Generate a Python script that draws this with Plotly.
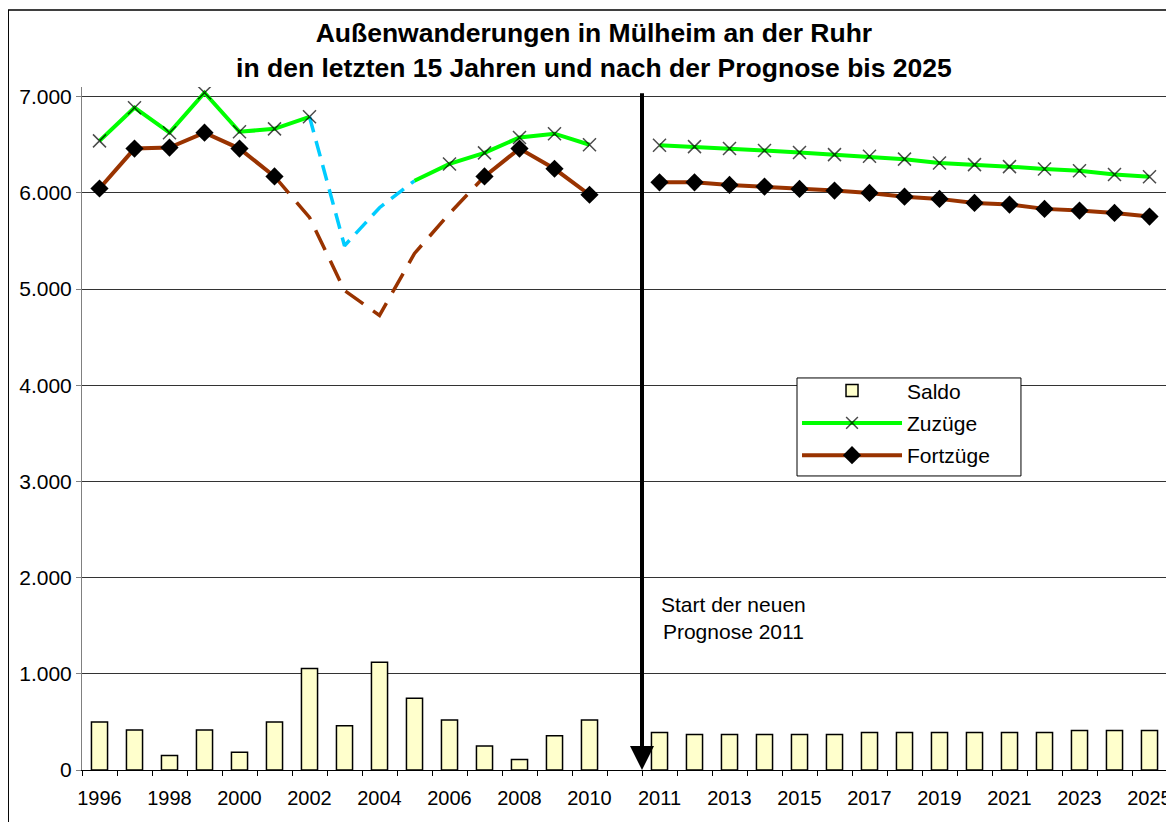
import plotly.graph_objects as go

# ---------------- data ----------------
years_hist = [str(y) for y in range(1996, 2011)]
zuzuege_hist = [6540, 6885, 6625, 7040, 6635, 6665, 6790, 5450, 5845, 6125, 6300, 6415, 6575, 6615, 6500]
fortzuege_hist = [6045, 6460, 6470, 6625, 6460, 6170, 5745, 4985, 4725, 5370, 5785, 6170, 6460, 6250, 5980]
saldo_hist = [500, 415, 150, 415, 185, 500, 1055, 460, 1120, 745, 520, 250, 110, 355, 520]

years_prog = [str(y) for y in range(2011, 2026)]
zuzuege_prog = [6495, 6480, 6460, 6440, 6420, 6397, 6380, 6350, 6310, 6293, 6272, 6248, 6230, 6190, 6168]
fortzuege_prog = [6109, 6109, 6082, 6065, 6040, 6023, 5999, 5960, 5937, 5895, 5878, 5833, 5815, 5791, 5753]
saldo_prog = [390, 370, 370, 370, 370, 370, 390, 390, 390, 390, 390, 390, 410, 410, 410]

# years whose values are only estimated (drawn dashed, no markers)
zuzuege_est_years = ["2003", "2004", "2005"]
fortzuege_est_years = ["2002", "2003", "2004", "2005", "2006"]

gap_label = " "
categories = years_hist + [gap_label] + years_prog
tick_text = [c if i % 2 == 0 else "" for i, c in enumerate(categories)]

# ---------------- build series ----------------
zuz_all = dict(zip(years_hist, zuzuege_hist)); zuz_all.update(zip(years_prog, zuzuege_prog))
fort_all = dict(zip(years_hist, fortzuege_hist)); fort_all.update(zip(years_prog, fortzuege_prog))
saldo_all = dict(zip(years_hist, saldo_hist)); saldo_all.update(zip(years_prog, saldo_prog))

def solid(values, est, keep_last_est=False):
    out = []
    for c in categories:
        if c not in values:
            out.append(None)
        elif c in est and not (keep_last_est and c == est[-1]):
            out.append(None)
        else:
            out.append(values[c])
    return out

def dashed(values, est):
    i0 = years_hist.index(est[0]) - 1
    i1 = years_hist.index(est[-1]) + 1
    keep = set(years_hist[i0:i1 + 1])
    return [values[c] if c in keep else None for c in categories]

zuz_solid = solid(zuz_all, zuzuege_est_years, keep_last_est=True)
zuz_sizes = [0 if c in zuzuege_est_years else 13 for c in categories]
zuz_dash = dashed(zuz_all, zuzuege_est_years[:-1])
fort_solid = solid(fort_all, fortzuege_est_years)
fort_dash = dashed(fort_all, fortzuege_est_years)
saldo_vals = [saldo_all.get(c) for c in categories]

FONT = "Arial, Liberation Sans, sans-serif"
FS = 20

fig = go.Figure()
fig.add_trace(go.Bar(
    x=categories, y=saldo_vals, name="Saldo", legendgroup="a",
    marker=dict(color="#FFFFCC", line=dict(color="black", width=1.5)),
))
fig.add_trace(go.Scatter(
    x=categories, y=zuz_dash, mode="lines", showlegend=False,
    line=dict(color="#00CCFF", width=3.5, dash="16px,9px"), connectgaps=False,
))
fig.add_trace(go.Scatter(
    x=categories, y=fort_dash, mode="lines", showlegend=False,
    line=dict(color="#993300", width=3.5, dash="22px,12px"), connectgaps=False,
))
fig.add_trace(go.Scatter(
    x=categories, y=zuz_solid, mode="lines+markers", name="Zuzüge", legendgroup="b",
    line=dict(color="#00FF00", width=4),
    marker=dict(symbol="x-thin", size=zuz_sizes, color="black",
                line=dict(color="black", width=1.5)),
    connectgaps=False,
))
fig.add_trace(go.Scatter(
    x=categories, y=fort_solid, mode="lines+markers", name="Fortzüge", legendgroup="c",
    line=dict(color="#993300", width=4),
    marker=dict(symbol="diamond", size=14, color="black"),
    connectgaps=False,
))

# arrow marking the start of the forecast
fig.add_annotation(
    x=15.5, y=0, ax=15.5, ay=7050, xref="x", yref="y", axref="x", ayref="y",
    text="", showarrow=True, arrowhead=2, arrowsize=1.2, arrowwidth=4, arrowcolor="black",
)
fig.add_annotation(
    x=18.1, y=1575, xref="x", yref="y", showarrow=False,
    text="Start der neuen<br>Prognose 2011", font=dict(size=21, color="black", family=FONT),
    align="center",
)

# outer chart border
fig.add_shape(type="rect", xref="paper", yref="paper",
              x0=-0.068, x1=1.0, y0=-0.2, y1=1.1127,
              line=dict(color="black", width=1.5), layer="below")
# legend frame (drawn as a shape so it can be wider than the entries)
fig.add_shape(type="rect", xref="paper", yref="paper",
              x0=0.659, x1=0.8654, y0=0.4305, y1=0.574,
              line=dict(color="black", width=1), fillcolor="white", layer="above")

fig.update_layout(
    width=1166, height=814,
    margin=dict(l=74, r=7, t=79, b=52),
    paper_bgcolor="white", plot_bgcolor="white",
    font=dict(family=FONT, size=FS, color="black"),
    separators=",.",
    title=dict(
        text="<b>Außenwanderungen in Mülheim an der Ruhr<br>in den letzten 15 Jahren und nach der Prognose bis 2025</b>",
        x=0.5025, xanchor="center", y=0.958, yanchor="middle",
        font=dict(size=26.5, family=FONT, color="black"),
    ),
    bargap=0.54,
    showlegend=True,
    legend=dict(
        x=0.659, y=0.585, xanchor="left", yanchor="top",
        borderwidth=0, bgcolor="rgba(0,0,0,0)",
        font=dict(size=21, family=FONT), itemwidth=100,
        traceorder="grouped", tracegroupgap=2,
    ),
    xaxis=dict(
        type="category", categoryorder="array", categoryarray=categories,
        range=[-0.5, 30.5], tickmode="array", tickvals=categories, ticktext=tick_text,
        tickson="boundaries", ticks="outside", ticklen=5, tickcolor="black", tickangle=0,
        ticklabelstandoff=10,
        showline=True, linecolor="black", linewidth=1, showgrid=False, automargin=False,
        tickfont=dict(size=FS, family=FONT), fixedrange=True,
    ),
    yaxis=dict(
        range=[0, 7100], tickmode="array", tickvals=list(range(0, 8000, 1000)),
        tickformat=",d", ticksuffix=" ", ticks="outside", ticklen=5, tickcolor="#808080",
        showline=True, linecolor="#808080", linewidth=1, automargin=False,
        showgrid=True, gridcolor="#333333", gridwidth=1, zeroline=False,
        tickfont=dict(size=21, family=FONT), fixedrange=True,
    ),
)

fig.write_html("out.html")
